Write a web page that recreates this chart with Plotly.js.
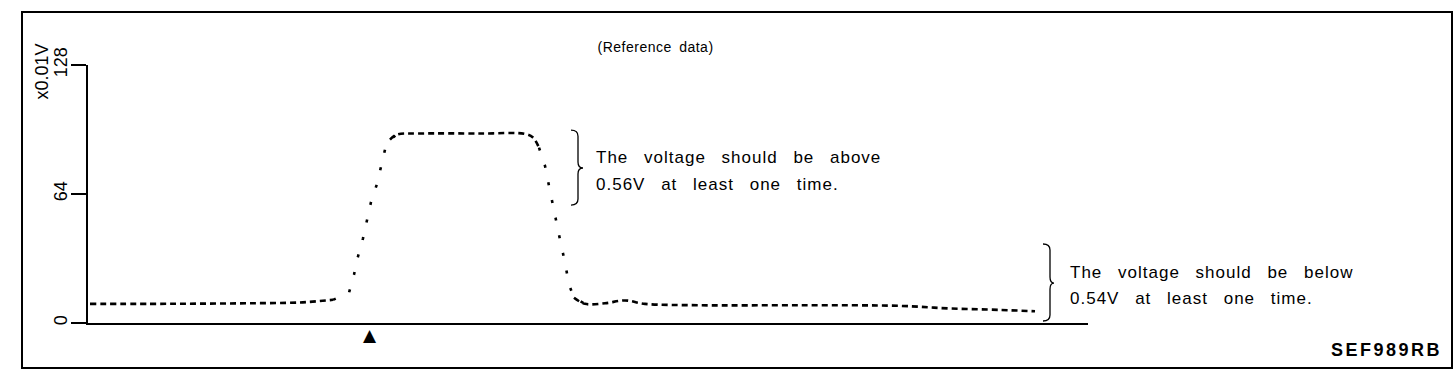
<!DOCTYPE html>
<html>
<head>
<meta charset="utf-8">
<script src="https://cdn.plot.ly/plotly-3.0.1.min.js"></script>
<style>html,body{margin:0;padding:0;background:#fff;}#chart{width:1456px;height:378px;}</style>
</head>
<body>
<div id="chart"></div>
<script>
// Time axis (arbitrary units, 0-100) and sensor voltage (x0.01V)
const timeFlatA = [0.2, 6.2, 11.2, 16.2, 21.2, 24.5];
const voltFlatA = [9.5, 9.5, 9.6, 9.8, 10.2, 11.5];
const timeRise  = [24.5, 26.1, 26.6, 27.0, 27.5, 27.9, 28.3, 28.9, 29.3, 29.7, 30.2, 30.9];
const voltRise  = [11.5, 15, 24, 33, 42, 51, 60, 69, 78, 86, 91, 93.5];
const timeTop   = [30.2, 30.9, 33.2, 39.2, 43.7, 44.5, 45.1];
const voltTop   = [91, 93.5, 94, 94, 93.8, 92, 87];
const timeFall  = [45.1, 45.7, 46.1, 46.5, 46.9, 47.3, 47.7, 48.1, 48.6, 49.7];
const voltFall  = [87, 78, 68, 58, 49, 39, 30, 19, 12.5, 9.5];
const timeFlatB = [48.6, 49.7, 51.7, 53.7, 55.7, 61.2, 71.2, 81.2, 86.2, 91.2, 94.7];
const voltFlatB = [12.5, 9.5, 9.8, 11.2, 9.5, 8.8, 8.8, 8.5, 7.2, 6.5, 5.8];
const triggerX = [28.2];
const yTickVals = [0, 64, 128];
const yTickText = ['0', '64', '128'];
const noteAbove = ['The voltage should be above', '0.56V at least one time.'];
const noteBelow = ['The voltage should be below', '0.54V at least one time.'];

const font = "'Liberation Sans', Arial, sans-serif";
const dashLine = {color: '#000', width: 2.6, dash: '6px,4px', shape: 'spline'};
const dotLine = {color: '#000', width: 2.6, dash: '3px,15px'};

const traces = [
  {x: timeFlatA, y: voltFlatA, mode: 'lines', line: dashLine},
  {x: timeRise, y: voltRise, mode: 'lines', line: dotLine},
  {x: timeTop, y: voltTop, mode: 'lines', line: dashLine},
  {x: timeFall, y: voltFall, mode: 'lines', line: dotLine},
  {x: timeFlatB, y: voltFlatB, mode: 'lines', line: dashLine}
];

const brace = (x0, xv, xt, yTop, yTip, yBot, r) =>
  `M ${x0},${yTop} Q ${xv},${yTop} ${xv},${yTop - r} L ${xv},${yTip + r} Q ${xv},${yTip} ${xt},${yTip} ` +
  `Q ${xv},${yTip} ${xv},${yTip - r} L ${xv},${yBot + r} Q ${xv},${yBot} ${x0},${yBot}`;

const note = (text, x, y) => ({text: text, xref: 'x', yref: 'y', x: x, y: y,
  xanchor: 'left', yanchor: 'middle', align: 'left', showarrow: false, font: {size: 17}});

const layout = {
  width: 1456, height: 378,
  margin: {l: 88, r: 368, t: 65, b: 55},
  paper_bgcolor: '#fff', plot_bgcolor: '#fff',
  showlegend: false,
  font: {family: font, color: '#000', size: 16},
  xaxis: {range: [0, 100], showgrid: false, zeroline: false, showline: true,
          linecolor: '#000', linewidth: 2.2, showticklabels: false, ticks: '', fixedrange: true},
  yaxis: {range: [0, 128], showgrid: false, zeroline: false, showline: true,
          linecolor: '#000', linewidth: 2, ticks: 'outside', ticklen: 15, tickwidth: 1.5,
          tickcolor: '#000', tickvals: yTickVals, ticktext: yTickText, tickangle: -90,
          ticklabelstandoff: -3,
          tickfont: {size: 18, family: font}, fixedrange: true},
  shapes: [
    {type: 'rect', xref: 'paper', yref: 'paper', x0: -0.066, x1: 1.364, y0: -0.174, y1: 1.205,
     line: {color: '#000', width: 2}},
    {type: 'path', xref: 'x', yref: 'y', line: {color: '#000', width: 1.3},
     path: brace(48.3, 49.0, 49.5, 95.7, 76.9, 58.5, 3)},
    {type: 'path', xref: 'x', yref: 'y', line: {color: '#000', width: 1.3},
     path: brace(95.5, 96.2, 96.6, 39.2, 19.8, 1.0, 3)}
  ],
  annotations: [
    {text: '(Reference data)', xref: 'paper', yref: 'paper', x: 0.567, y: 1.07,
     xanchor: 'center', yanchor: 'middle', showarrow: false, font: {size: 14}},
    {text: 'x0.01V', xref: 'paper', yref: 'paper', x: -0.046, y: 0.975, textangle: -90,
     xanchor: 'center', yanchor: 'middle', showarrow: false, font: {size: 18}},
    note(noteAbove[0], 50.6, 82.3),
    note(noteAbove[1], 50.6, 68.5),
    note(noteBelow[0], 98.0, 25.3),
    note(noteBelow[1], 98.0, 12.4),
    {text: '▲', xref: 'x', yref: 'paper', x: triggerX[0], y: -0.048, xanchor: 'center',
     yanchor: 'middle', showarrow: false, font: {size: 17, family: 'DejaVu Sans'}},
    {text: '<b>SEF989RB</b>', xref: 'paper', yref: 'paper', x: 1.241, y: -0.105,
     xanchor: 'left', yanchor: 'middle', align: 'left', showarrow: false, font: {size: 18}}
  ]
};

Plotly.newPlot('chart', traces, layout, {displayModeBar: false, staticPlot: true}).then(() => {
  const texts = document.querySelectorAll('.annotation-text');
  texts.forEach(t => {
    const s = t.textContent;
    if (s.indexOf('voltage') >= 0 || s.indexOf('0.5') === 0) {
      t.style.letterSpacing = '1px';
      t.style.wordSpacing = '10px';
    } else if (s.indexOf('Reference') >= 0) {
      t.style.letterSpacing = '0.5px';
      t.style.wordSpacing = '3px';
    } else if (s.indexOf('SEF') >= 0) {
      t.style.letterSpacing = '2.5px';
    }
  });
});
</script>
</body>
</html>
